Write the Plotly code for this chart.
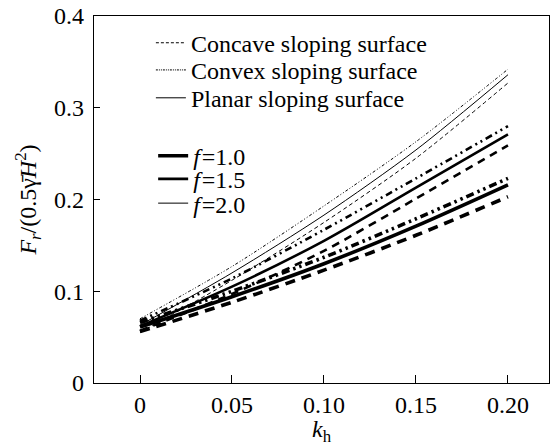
import plotly.graph_objects as go

kh = [0, 0.05, 0.10, 0.15, 0.20]

# f = 2.0
f20_convex = [0.070, 0.127, 0.193, 0.263, 0.342]
f20_planar = [0.063, 0.120, 0.183, 0.254, 0.336]
f20_concave = [0.055, 0.112, 0.175, 0.245, 0.327]
# f = 1.5
f15_convex = [0.068, 0.114, 0.167, 0.223, 0.280]
f15_planar = [0.062, 0.105, 0.155, 0.213, 0.271]
f15_concave = [0.057, 0.097, 0.144, 0.201, 0.259]
# f = 1.0
f10_convex = [0.066, 0.100, 0.137, 0.179, 0.223]
f10_planar = [0.061, 0.094, 0.130, 0.171, 0.216]
f10_concave = [0.056, 0.088, 0.123, 0.161, 0.203]

surface_labels = ["Concave sloping surface", "Convex sloping surface", "Planar sloping surface"]
f_labels = ["<i>f</i>\u200a=1.0", "<i>f</i>\u200a=1.5", "<i>f</i>\u200a=2.0"]
x_ticks = [0, 0.05, 0.10, 0.15, 0.20]
x_tick_text = ["0", "0.05", "0.10", "0.15", "0.20"]
y_ticks = [0, 0.1, 0.2, 0.3, 0.4]
y_tick_text = ["0", "0.1", "0.2", "0.3", "0.4"]

FONT = "'Liberation Serif', 'Times New Roman', Times, serif"
FS = 24

fig = go.Figure()

groups = [
    (f10_concave, f10_convex, f10_planar, 3.6, "10px,7px", "8px,4px,2.5px,4px,2.5px,4px"),
    (f15_concave, f15_convex, f15_planar, 2.6, "8px,6px", "7px,4px,2px,4px,2px,4px"),
    (f20_concave, f20_convex, f20_planar, 1.0, "4px,3px", "3px,2px,1px,2px,1px,2px"),
]
for conc, conv, plan, w, dconc, dconv in groups:
    fig.add_trace(go.Scatter(x=kh, y=conc, mode="lines", showlegend=False,
                             line=dict(color="black", width=w, dash=dconc, shape="spline", smoothing=0.8)))
    fig.add_trace(go.Scatter(x=kh, y=conv, mode="lines", showlegend=False,
                             line=dict(color="black", width=w, dash=dconv, shape="spline", smoothing=0.8)))
    fig.add_trace(go.Scatter(x=kh, y=plan, mode="lines", showlegend=False,
                             line=dict(color="black", width=w, dash="solid", shape="spline", smoothing=0.8)))

legend_names = ["legend", "legend2", "legend3", "legend4", "legend5", "legend6"]
for i, (lab, d) in enumerate(zip(surface_labels, ["3px,2px", "2px,1px,1px,1px,1px,1px", "solid"])):
    fig.add_trace(go.Scatter(x=[None], y=[None], mode="lines", name=lab, legend=legend_names[i],
                             line=dict(color="black", width=1, dash=d)))
for i, (lab, w) in enumerate(zip(f_labels, [3.6, 2.6, 1.0])):
    fig.add_trace(go.Scatter(x=[None], y=[None], mode="lines", name=lab, legend=legend_names[3 + i],
                             line=dict(color="black", width=w)))

leg_y = [0.926, 0.852, 0.776, 0.618, 0.555, 0.489]
leg_x = [0.125, 0.125, 0.125, 0.13, 0.13, 0.13]
legends = {}
for name, lx, ly in zip(legend_names, leg_x, leg_y):
    legends[name] = dict(x=lx, y=ly, xanchor="left", yanchor="middle", bgcolor="rgba(0,0,0,0)",
                         font=dict(family=FONT, size=FS), itemwidth=30)

fig.update_layout(
    width=550, height=446,
    margin=dict(l=94, r=1, t=16, b=63),
    plot_bgcolor="white", paper_bgcolor="white",
    font=dict(family=FONT, size=FS, color="black"),
    **legends,
    xaxis=dict(range=[-0.025, 0.2223], tickvals=x_ticks, ticktext=x_tick_text,
               ticks="inside", ticklen=8, tickwidth=1, tickcolor="black",
               showline=True, linecolor="black", linewidth=1.2, mirror=True,
               showgrid=False, zeroline=False,
               title=dict(text="<i>k</i><sub>h</sub>", font=dict(family=FONT, size=FS), standoff=0),
               tickfont=dict(family=FONT, size=FS)),
    yaxis=dict(range=[0, 0.4], tickvals=y_ticks, ticktext=y_tick_text,
               ticks="inside", ticklen=6, tickwidth=1, tickcolor="black",
               showline=True, linecolor="black", linewidth=1.2, mirror=True,
               showgrid=False, zeroline=False, ticklabelstandoff=4,
               title=dict(text="<i>F</i><sub><i>r</i></sub>/(0.5γ\u0304<i>H</i><sup>2</sup>)",
                          font=dict(family=FONT, size=FS), standoff=10),
               tickfont=dict(family=FONT, size=FS)),
)

fig.write_html("out.html")
